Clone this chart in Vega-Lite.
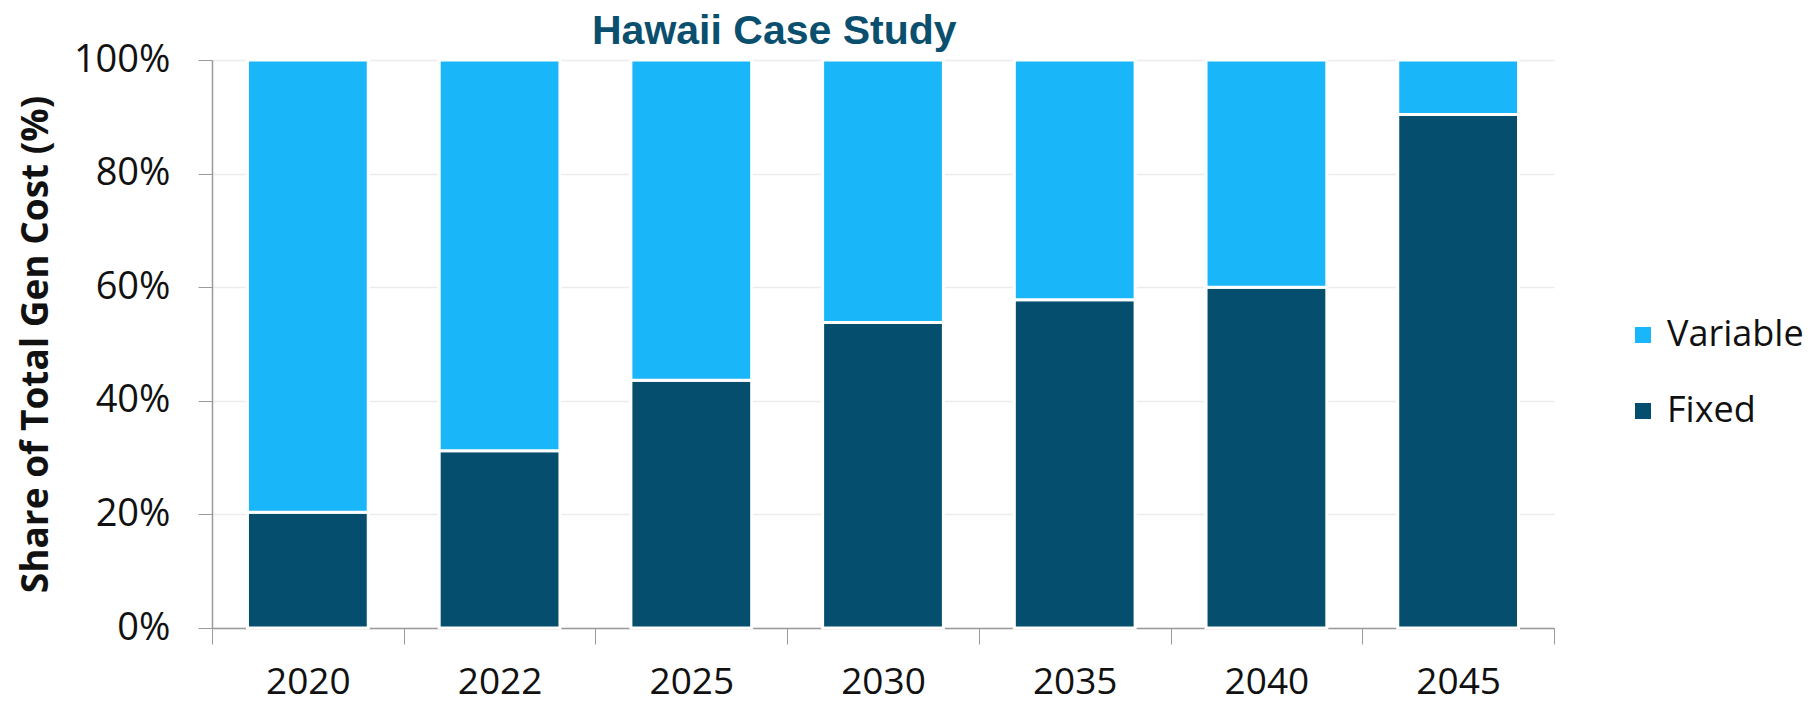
{
  "$schema": "https://vega.github.io/schema/vega-lite/v6.json",
  "width": 1342,
  "height": 568,
  "autosize": {"type": "none"},
  "padding": {"left": 212, "top": 60, "right": 260, "bottom": 75},
  "background": "white",
  "title": {
    "text": "Hawaii Case Study",
    "font": "Liberation Sans",
    "fontSize": 41,
    "fontWeight": "bold",
    "color": "#0B4F6E",
    "anchor": "start",
    "frame": "group",
    "dx": 380,
    "offset": -12
  },
  "data": {
    "values": [
      {"year": "2020", "part": "Fixed", "share": 20.4},
      {"year": "2020", "part": "Variable", "share": 79.6},
      {"year": "2022", "part": "Fixed", "share": 31.2},
      {"year": "2022", "part": "Variable", "share": 68.8},
      {"year": "2025", "part": "Fixed", "share": 43.6},
      {"year": "2025", "part": "Variable", "share": 56.4},
      {"year": "2030", "part": "Fixed", "share": 53.8},
      {"year": "2030", "part": "Variable", "share": 46.2},
      {"year": "2035", "part": "Fixed", "share": 57.8},
      {"year": "2035", "part": "Variable", "share": 42.2},
      {"year": "2040", "part": "Fixed", "share": 60.0},
      {"year": "2040", "part": "Variable", "share": 40.0},
      {"year": "2045", "part": "Fixed", "share": 90.4},
      {"year": "2045", "part": "Variable", "share": 9.6}
    ]
  },
  "mark": {"type": "bar", "stroke": "white", "strokeWidth": 3, "width": {"band": 0.63}},
  "encoding": {
    "x": {
      "field": "year",
      "type": "ordinal",
      "scale": {"paddingInner": 0, "paddingOuter": 0},
      "axis": {
        "title": null,
        "labelAngle": 0,
        "labelFont": "Open Sans",
        "labelFontSize": 37,
        "labelColor": "#111111",
        "tickBand": "extent",
        "tickSize": 16,
        "tickColor": "#9a9a9a",
        "domainColor": "#9a9a9a",
        "domainWidth": 1.5,
        "labelPadding": 20
      }
    },
    "y": {
      "field": "share",
      "type": "quantitative",
      "stack": "zero",
      "scale": {"domain": [0, 100]},
      "axis": {
        "values": [0, 20, 40, 60, 80, 100],
        "labelExpr": "datum.value + '%'",
        "title": "Share of Total Gen Cost (%)",
        "titleFont": "Open Sans",
        "titleFontSize": 37,
        "titleFontWeight": "bold",
        "titleColor": "#111111",
        "titlePadding": 18,
        "labelFont": "Open Sans",
        "labelFontSize": 38,
        "labelColor": "#111111",
        "tickSize": 14,
        "tickColor": "#9a9a9a",
        "domainColor": "#9a9a9a",
        "domainWidth": 1.5,
        "gridColor": "#ececec",
        "gridWidth": 1.5,
        "labelPadding": 28
      }
    },
    "color": {
      "field": "part",
      "type": "nominal",
      "scale": {"domain": ["Variable", "Fixed"], "range": ["#19B6F9", "#054E6E"]},
      "legend": {
        "title": null,
        "orient": "none",
        "legendX": 1413,
        "legendY": 257,
        "symbolType": "square",
        "symbolSize": 256,
        "symbolStrokeWidth": 0,
        "labelFont": "Open Sans",
        "labelFontSize": 36,
        "labelColor": "#111111",
        "labelOffset": 6,
        "rowPadding": 40
      }
    },
    "order": {"field": "part", "sort": "ascending"}
  },
  "config": {"view": {"stroke": null}}
}
